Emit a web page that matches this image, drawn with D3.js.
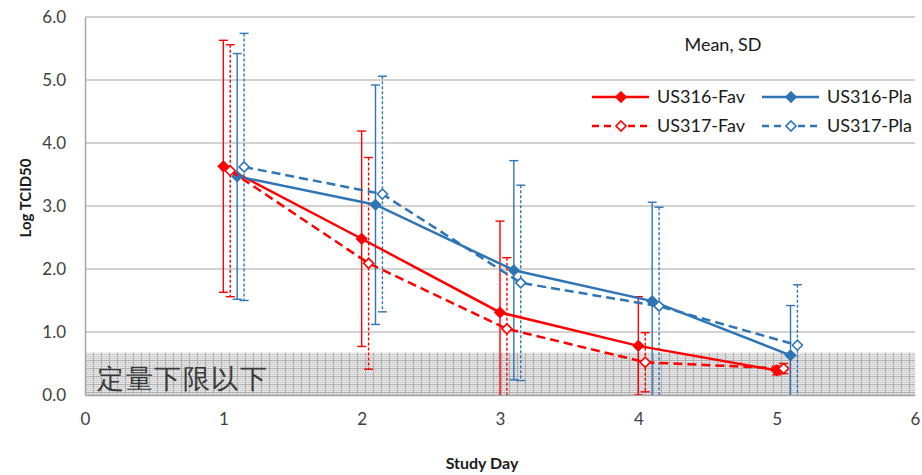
<!DOCTYPE html>
<html>
<head>
<meta charset="utf-8">
<script src="https://cdn.jsdelivr.net/npm/d3@7/dist/d3.min.js"></script>
<style>
  html, body { margin: 0; padding: 0; background: #fff; }
  svg { display: block; }
  text { font-family: Lato, "Open Sans", "Liberation Sans", sans-serif; }
</style>
</head>
<body>
<svg id="chart" width="922" height="475"></svg>
<script>
// Study days on the x axis
const days = [1, 2, 3, 4, 5];

// Series names (legend order)
const seriesNames = ["US316-Fav", "US316-Pla", "US317-Fav", "US317-Pla"];

// Mean log TCID50 per day
const us316FavMean = [3.63, 2.48, 1.31, 0.78, 0.39];
const us316PlaMean = [3.47, 3.02, 1.98, 1.49, 0.63];
const us317FavMean = [3.56, 2.09, 1.05, 0.52, 0.42];
const us317PlaMean = [3.62, 3.19, 1.78, 1.41, 0.79];

// Standard deviation per day
const us316FavSD = [2.00, 1.71, 1.45, 0.78, 0.07];
const us316PlaSD = [1.95, 1.90, 1.74, 1.57, 0.79];
const us317FavSD = [2.00, 1.68, 1.13, 0.47, 0.08];
const us317PlaSD = [2.12, 1.87, 1.55, 1.57, 0.96];

// Axis ticks
const xTicks = [0, 1, 2, 3, 4, 5, 6];
const yTicks = [0, 1, 2, 3, 4, 5, 6];

// Lower limit of quantification band
const lloq = 0.67;
const lloqLabel = "定量下限以下";

const RED = "#ff0000";
const BLUE = "#2e75b6";

const series = [
  { name: seriesNames[0], mean: us316FavMean, sd: us316FavSD, color: RED,  dashed: false, shift: 0 },
  { name: seriesNames[1], mean: us316PlaMean, sd: us316PlaSD, color: BLUE, dashed: false, shift: 0.1 },
  { name: seriesNames[2], mean: us317FavMean, sd: us317FavSD, color: RED,  dashed: true,  shift: 0.05 },
  { name: seriesNames[3], mean: us317PlaMean, sd: us317PlaSD, color: BLUE, dashed: true,  shift: 0.15 }
];

const svg = d3.select("#chart");
const plotLeft = 85, plotRight = 915, plotTop = 17, plotBottom = 395;

const x = d3.scaleLinear().domain([0, 6]).range([plotLeft, plotRight]);
const y = d3.scaleLinear().domain([0, 6]).range([plotBottom, plotTop]);

// Patterned fill for the below-LLOQ band
const defs = svg.append("defs");
const pat = defs.append("pattern")
  .attr("id", "lloqPat").attr("patternUnits", "userSpaceOnUse")
  .attr("width", 8).attr("height", 8).attr("x", plotLeft).attr("y", 0);
pat.append("rect").attr("width", 8).attr("height", 8).attr("fill", "#e4e4e4");
for (let i = 0; i < 8; i += 2) {
  for (let j = 0; j < 8; j += 2) {
    pat.append("rect").attr("x", i + ((j / 2) % 2)).attr("y", j).attr("width", 1).attr("height", 1).attr("fill", "#bdbdbd");
  }
}
pat.append("rect").attr("x", 0).attr("y", 0).attr("width", 8).attr("height", 1).attr("fill", "#b0b0b0");
pat.append("rect").attr("x", 0).attr("y", 0).attr("width", 1).attr("height", 8).attr("fill", "#b0b0b0");

defs.append("clipPath").attr("id", "plotClip")
  .append("rect").attr("x", plotLeft).attr("y", plotTop - 2)
  .attr("width", plotRight - plotLeft + 2).attr("height", plotBottom - plotTop + 2);

// Gridlines
svg.append("g")
  .selectAll("line").data(yTicks.filter(d => d > 0)).join("line")
  .attr("x1", plotLeft).attr("x2", plotRight)
  .attr("y1", d => y(d)).attr("y2", d => y(d))
  .attr("stroke", "#a6a6a6").attr("stroke-width", 1.2);

// LLOQ band
svg.append("rect")
  .attr("x", plotLeft).attr("y", y(lloq))
  .attr("width", plotRight - plotLeft).attr("height", y(0) - y(lloq))
  .attr("fill", "url(#lloqPat)");

svg.append("text")
  .attr("x", plotLeft + 12).attr("y", y(0) - 7)
  .attr("font-family", "'Noto Sans CJK JP', 'Noto Sans CJK SC', sans-serif")
  .attr("font-size", 27).attr("fill", "#3a3a3a")
  .attr("letter-spacing", 1.5)
  .text(lloqLabel);

// Axes
const xAxis = d3.axisBottom(x).tickValues(xTicks).tickFormat(d3.format("d")).tickSize(0).tickPadding(18);
const yAxis = d3.axisLeft(y).tickValues(yTicks).tickFormat(d3.format(".1f")).tickSize(0).tickPadding(19);

const gx = svg.append("g").attr("transform", `translate(0,${plotBottom})`).call(xAxis);
const gy = svg.append("g").attr("transform", `translate(${plotLeft},0)`).call(yAxis);
[gx, gy].forEach(g => {
  g.select(".domain").attr("stroke", "#a6a6a6").attr("stroke-width", 1.5);
  g.selectAll("text").attr("font-size", 17).attr("fill", "#404040")
    .attr("font-family", "Lato, 'Open Sans', sans-serif");
});

// Axis titles
svg.append("text")
  .attr("transform", `translate(31,198) rotate(-90)`)
  .attr("text-anchor", "middle")
  .attr("font-size", 15).attr("font-weight", "bold").attr("fill", "#1a1a1a")
  .text("Log TCID50");
svg.append("text")
  .attr("x", 482).attr("y", 469)
  .attr("text-anchor", "middle")
  .attr("font-size", 16).attr("font-weight", "bold").attr("fill", "#1a1a1a")
  .text("Study Day");

// Series: error bars, lines, markers
const plot = svg.append("g").attr("clip-path", "url(#plotClip)");
const diamond = d3.symbol().type(d3.symbolDiamond2).size(64);
const capW = 4.5;

series.forEach(s => {
  const pts = days.map((d, i) => ({ xv: d + s.shift, m: s.mean[i], sd: s.sd[i] }));
  const eg = plot.append("g")
    .attr("stroke", s.color).attr("stroke-width", 1.4).attr("fill", "none");
  pts.forEach(p => {
    const cx = x(p.xv), yt = y(p.m + p.sd), yb = y(p.m - p.sd);
    eg.append("line").attr("x1", cx).attr("x2", cx).attr("y1", yt).attr("y2", yb)
      .attr("stroke-dasharray", s.dashed ? "3,2" : null);
    eg.append("line").attr("x1", cx - capW).attr("x2", cx + capW).attr("y1", yt).attr("y2", yt);
    eg.append("line").attr("x1", cx - capW).attr("x2", cx + capW).attr("y1", yb).attr("y2", yb);
  });
});

series.forEach(s => {
  const pts = days.map((d, i) => ({ xv: d + s.shift, m: s.mean[i] }));
  plot.append("path")
    .datum(pts)
    .attr("fill", "none").attr("stroke", s.color).attr("stroke-width", 2.5)
    .attr("stroke-dasharray", s.dashed ? "9,5" : null)
    .attr("d", d3.line().x(p => x(p.xv)).y(p => y(p.m)));
  plot.append("g").selectAll("path").data(pts).join("path")
    .attr("transform", p => `translate(${x(p.xv)},${y(p.m)})`)
    .attr("d", diamond)
    .attr("fill", s.dashed ? "#fff" : s.color)
    .attr("stroke", s.color).attr("stroke-width", 1.6);
});

// Legend
svg.append("text")
  .attr("x", 723).attr("y", 51)
  .attr("text-anchor", "middle")
  .attr("font-size", 18).attr("fill", "#1a1a1a")
  .text("Mean, SD");

const legendPos = [
  { lx: 592, ly: 97 },
  { lx: 762, ly: 97 },
  { lx: 592, ly: 126 },
  { lx: 762, ly: 126 }
];
series.forEach((s, i) => {
  const p = legendPos[i];
  const g = svg.append("g").attr("transform", `translate(${p.lx},${p.ly})`);
  g.append("line").attr("x1", 0).attr("x2", 57).attr("y1", 0).attr("y2", 0)
    .attr("stroke", s.color).attr("stroke-width", 2.5)
    .attr("stroke-dasharray", s.dashed ? "7,5" : null);
  g.append("path").attr("transform", "translate(29,0)").attr("d", diamond)
    .attr("fill", s.dashed ? "#fff" : s.color).attr("stroke", s.color).attr("stroke-width", 1.6);
  g.append("text").attr("x", 65).attr("y", 6)
    .attr("font-size", 18).attr("fill", "#1a1a1a")
    .text(s.name);
});
</script>
</body>
</html>
